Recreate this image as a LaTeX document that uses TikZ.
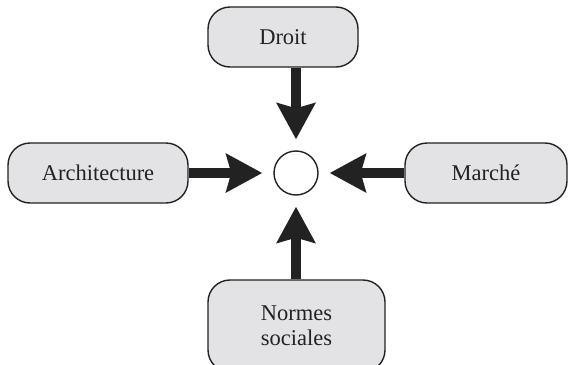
\documentclass[tikz,border=0pt]{standalone}
\usepackage{fontspec}
\setmainfont{Liberation Serif}
\usetikzlibrary{arrows.meta}
\definecolor{boxgray}{HTML}{E3E3E5}
\definecolor{inkgray}{HTML}{222222}

\tikzset{
  boite/.style={draw=inkgray, line width=1.4pt, fill=boxgray, rounded corners=22pt,
    text=inkgray, font=\fontsize{22.5}{25}\selectfont, align=center, inner sep=0pt},
  fleche/.style={draw=inkgray, line width=10pt,
    -{Stealth[length=36pt, width=38pt, inset=5pt]}, shorten >=11pt}
}

\begin{document}
\begin{tikzpicture}[x=1pt, y=-1pt]
\useasboundingbox (0,0) rectangle (575,364);

\node[boite, minimum width=150pt, minimum height=60pt] (droit) at (283,37) {Droit};
\node[boite, minimum width=180pt, minimum height=60pt] (archi) at (98,173) {Architecture};
\node[boite, minimum width=162pt, minimum height=60pt] (marche) at (486,173) {Marché};
\node[boite, minimum width=177pt, minimum height=92pt] (normes) at (296.5,326) {Normes\\sociales};
\node[draw=inkgray, line width=1.4pt, fill=white, circle, minimum size=44pt, inner sep=0pt] (centre) at (296,173) {};

\draw[fleche] (droit.south -| centre) -- (centre.north);
\draw[fleche] (archi.east) -- (centre.west);
\draw[fleche] (marche.west) -- (centre.east);
\draw[fleche] (normes.north -| centre) -- (centre.south);

\end{tikzpicture}
\end{document}
